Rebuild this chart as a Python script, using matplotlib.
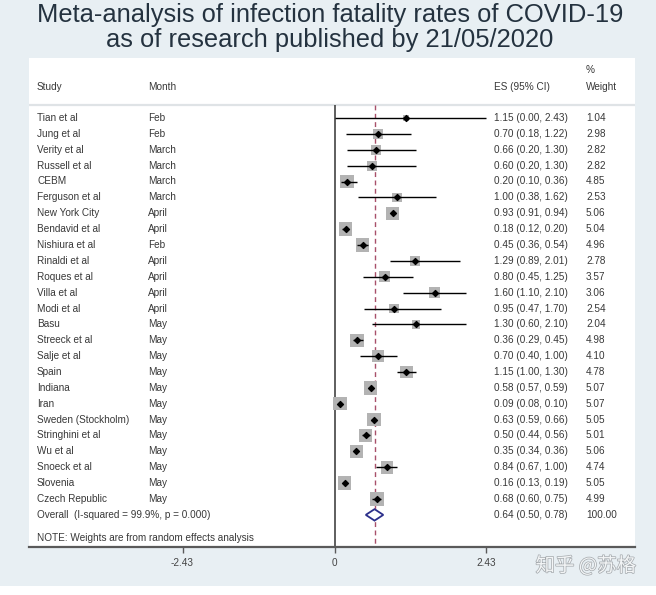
import numpy as np
import matplotlib
matplotlib.use("Agg")
import matplotlib.pyplot as plt
from matplotlib.transforms import blended_transform_factory
from matplotlib.patches import Rectangle
import matplotlib.patheffects as pe

# ---------------- data ----------------
studies = ["Tian et al", "Jung et al", "Verity et al", "Russell et al", "CEBM",
           "Ferguson et al", "New York City", "Bendavid et al", "Nishiura et al",
           "Rinaldi et al", "Roques et al", "Villa et al", "Modi et al", "Basu",
           "Streeck et al", "Salje et al", "Spain", "Indiana", "Iran",
           "Sweden (Stockholm)", "Stringhini et al", "Wu et al", "Snoeck et al",
           "Slovenia", "Czech Republic"]
months = ["Feb", "Feb", "March", "March", "March", "March", "April", "April", "Feb",
          "April", "April", "April", "April", "May", "May", "May", "May", "May", "May",
          "May", "May", "May", "May", "May", "May"]
es = [1.15, 0.70, 0.66, 0.60, 0.20, 1.00, 0.93, 0.18, 0.45, 1.29, 0.80, 1.60, 0.95,
      1.30, 0.36, 0.70, 1.15, 0.58, 0.09, 0.63, 0.50, 0.35, 0.84, 0.16, 0.68]
ci_low = [0.00, 0.18, 0.20, 0.20, 0.10, 0.38, 0.91, 0.12, 0.36, 0.89, 0.45, 1.10, 0.47,
          0.60, 0.29, 0.40, 1.00, 0.57, 0.08, 0.59, 0.44, 0.34, 0.67, 0.13, 0.60]
ci_high = [2.43, 1.22, 1.30, 1.30, 0.36, 1.62, 0.94, 0.20, 0.54, 2.01, 1.25, 2.10, 1.70,
           2.10, 0.45, 1.00, 1.30, 0.59, 0.10, 0.66, 0.56, 0.36, 1.00, 0.19, 0.75]
weights = [1.04, 2.98, 2.82, 2.82, 4.85, 2.53, 5.06, 5.04, 4.96, 2.78, 3.57, 3.06, 2.54,
           2.04, 4.98, 4.10, 4.78, 5.07, 5.07, 5.05, 5.01, 5.06, 4.74, 5.05, 4.99]
overall_es = 0.64
overall_low = 0.50
overall_high = 0.78
overall_label = "Overall  (I-squared = 99.9%, p = 0.000)"
overall_weight = "100.00"
tick_values = [-2.43, 0, 2.43]
tick_labels = ["-2.43", "0", "2.43"]
title_lines = ["Meta-analysis of infection fatality rates of COVID-19",
               "as of research published by 21/05/2020"]
note = "NOTE: Weights are from random effects analysis"

# ---------------- style ----------------
BG = "#e8eff3"
TXT = "#383838"
FONT = "Liberation Sans"
FS = 7.2
plt.rcParams["font.family"] = [FONT, "DejaVu Sans"]

W, H = 656, 595
fig = plt.figure(figsize=(W / 100, H / 100), dpi=100)
fig.patch.set_facecolor(BG)
fig.add_artist(Rectangle((0, 0), 1, 9 / H, transform=fig.transFigure,
                         facecolor="white", edgecolor="none", zorder=0))

# panel in pixel coords
left_px, right_px, top_px, bot_px = 29, 635, 58, 547
ax = fig.add_axes([left_px / W, 1 - bot_px / H, (right_px - left_px) / W, (bot_px - top_px) / H])
ax.set_facecolor("white")

x0_px, scale = 334.5, 62.55
row0_px, row_step = 118, 15.875
ax.set_xlim((left_px - x0_px) / scale, (right_px - x0_px) / scale)
ybot = (bot_px - row0_px) / row_step
ytop = (top_px - row0_px) / row_step
ax.set_ylim(ybot, ytop)

for s in ["top", "left", "right"]:
    ax.spines[s].set_visible(False)
ax.spines["bottom"].set_color("#5a5a5a")
ax.spines["bottom"].set_linewidth(1.6)
ax.set_yticks([])
ax.set_xticks(tick_values)
ax.set_xticklabels(tick_labels)
ax.tick_params(axis="x", length=4, width=1, color="#5a5a5a", pad=4,
               labelsize=FS, labelcolor="#444444")

n = len(studies)
rows = np.arange(n)
sep_y = (105 - row0_px) / row_step

# header separator
ax.axhline(sep_y, color="#dfe3e6", lw=1.6, zorder=1)
# reference lines
ax.vlines(0, sep_y, ybot, color="#333333", lw=1.1, zorder=2)
ax.vlines(overall_es, sep_y, ybot, color="#a8506a", lw=1.0,
          linestyles=(0, (3.5, 2.5)), zorder=2)

# boxes (area proportional to weight)
w = np.array(weights)
ax.scatter(es, rows, marker="s", s=92 * w / 5.07, color="#b3b3b3",
           edgecolors="none", zorder=3)
ax.hlines(rows, ci_low, ci_high, color="black", lw=1.0, zorder=4)
ax.scatter(es, rows, marker="D", s=9, color="black", zorder=5)

# overall diamond
oy = n
dh = 0.36
ax.fill([overall_low, overall_es, overall_high, overall_es],
        [oy, oy - dh, oy, oy + dh], facecolor="white", edgecolor="#2b2f8a",
        lw=1.3, zorder=5)

# text columns
tr = blended_transform_factory(ax.transAxes, ax.transData)
fx = lambda px: (px - left_px) / (right_px - left_px)
col_study, col_month, col_es, col_w = fx(37), fx(148), fx(494), fx(586)
kw = dict(transform=tr, fontsize=FS, color=TXT, va="center", ha="left")

hdr_y = (87 - row0_px) / row_step
pct_y = (70 - row0_px) / row_step
ax.text(col_study, hdr_y, "Study", **kw)
ax.text(col_month, hdr_y, "Month", **kw)
ax.text(col_es, hdr_y, "ES (95% CI)", **kw)
ax.text(col_w, hdr_y, "Weight", **kw)
ax.text(col_w, pct_y, "%", **kw)

for i in range(n):
    ax.text(col_study, i, studies[i], **kw)
    ax.text(col_month, i, months[i], **kw)
    ax.text(col_es, i, f"{es[i]:.2f} ({ci_low[i]:.2f}, {ci_high[i]:.2f})", **kw)
    ax.text(col_w, i, f"{weights[i]:.2f}", **kw)

ax.text(col_study, oy, overall_label, **kw)
ax.text(col_es, oy, f"{overall_es:.2f} ({overall_low:.2f}, {overall_high:.2f})", **kw)
ax.text(col_w, oy, overall_weight, **kw)
ax.text(col_study, (538 - row0_px) / row_step, note, **kw)

# title
for line, ypx in zip(title_lines, [15, 40]):
    fig.text(330 / W, 1 - ypx / H, line, ha="center", va="center", fontsize=18.4,
             color="#24323f", family=FONT)

# watermark
fig.text(586 / W, 1 - 566 / H, "知乎 @苏格", ha="center", va="center", fontsize=14,
         color="#f3f5f6", family=["Noto Sans CJK SC", "DejaVu Sans"],
         path_effects=[pe.withStroke(linewidth=1.0, foreground="#a3a8ac")])

fig.savefig("out.png", dpi=100, facecolor=fig.get_facecolor())
